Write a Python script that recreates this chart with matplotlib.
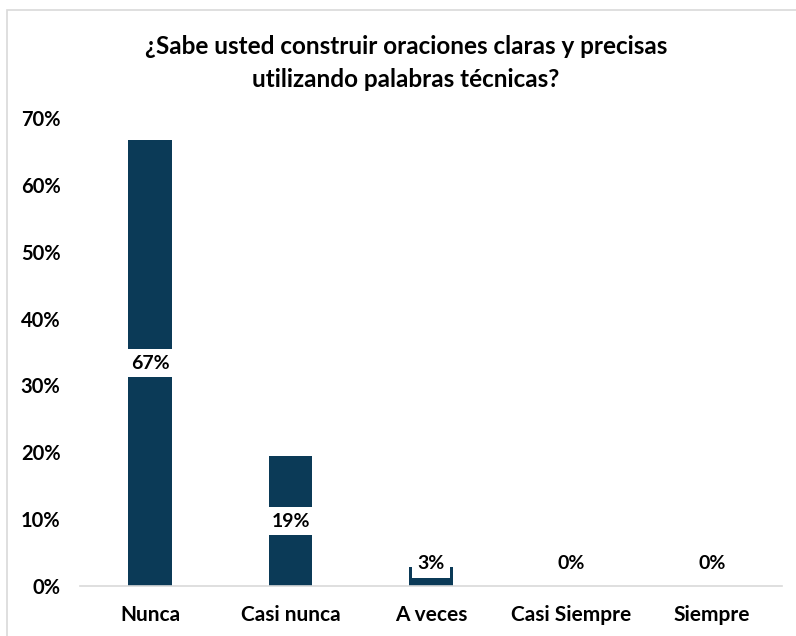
import matplotlib
matplotlib.use("Agg")
import matplotlib.pyplot as plt
from matplotlib.patches import Rectangle

categories = ["Nunca", "Casi nunca", "A veces", "Casi Siempre", "Siempre"]
values = [66.7, 19.4, 2.8, 0.0, 0.0]
yticks = [0, 10, 20, 30, 40, 50, 60, 70]
title = "¿Sabe usted construir oraciones claras y precisas\nutilizando palabras técnicas?"

plt.rcParams['font.family'] = ['Lato', 'DejaVu Sans']
W, H = 796, 636
fig = plt.figure(figsize=(W/100, H/100), dpi=100)

# figure border
fig.patches.append(Rectangle((7/W, -0.1), 2.0, (H-10)/H + 0.1, transform=fig.transFigure,
                             fill=False, edgecolor="#d9d9d9", linewidth=1.2))

ax = fig.add_axes([80/W, 1-586/H, 702/W, (586-118)/H])
color = "#0b3a57"
x = list(range(len(categories)))
ax.bar(x, values, width=0.31, color=color, zorder=2)
ax.set_xlim(-0.5, len(categories)-0.5)
ax.set_ylim(0, 70)
ax.set_yticks(yticks)
ax.set_yticklabels([f"{t}%" for t in yticks], fontsize=14.5, fontweight="bold")
ax.set_xticks(x)
ax.set_xticklabels(categories, fontsize=15, fontweight="bold")
ax.tick_params(axis="both", length=0)
ax.tick_params(axis="x", pad=14)
ax.tick_params(axis="y", pad=14)
for s in ["top", "right", "left"]:
    ax.spines[s].set_visible(False)
ax.spines["bottom"].set_color("#d9d9d9")
ax.spines["bottom"].set_linewidth(1.2)

for xi, v in zip(x, values):
    ypos = max(v/2, 3.4)
    ax.text(xi, ypos, f"{round(v)}%", ha="center", va="center", fontsize=14,
            fontweight="bold", color="black", zorder=3,
            bbox=dict(boxstyle="square,pad=0.3", facecolor="white", edgecolor="none"))

fig.text(406/W, 1-63/H, title, ha="center", va="center", fontsize=17.5,
         fontweight="bold", linespacing=1.5)

fig.savefig("out.png", dpi=100, facecolor="white")
